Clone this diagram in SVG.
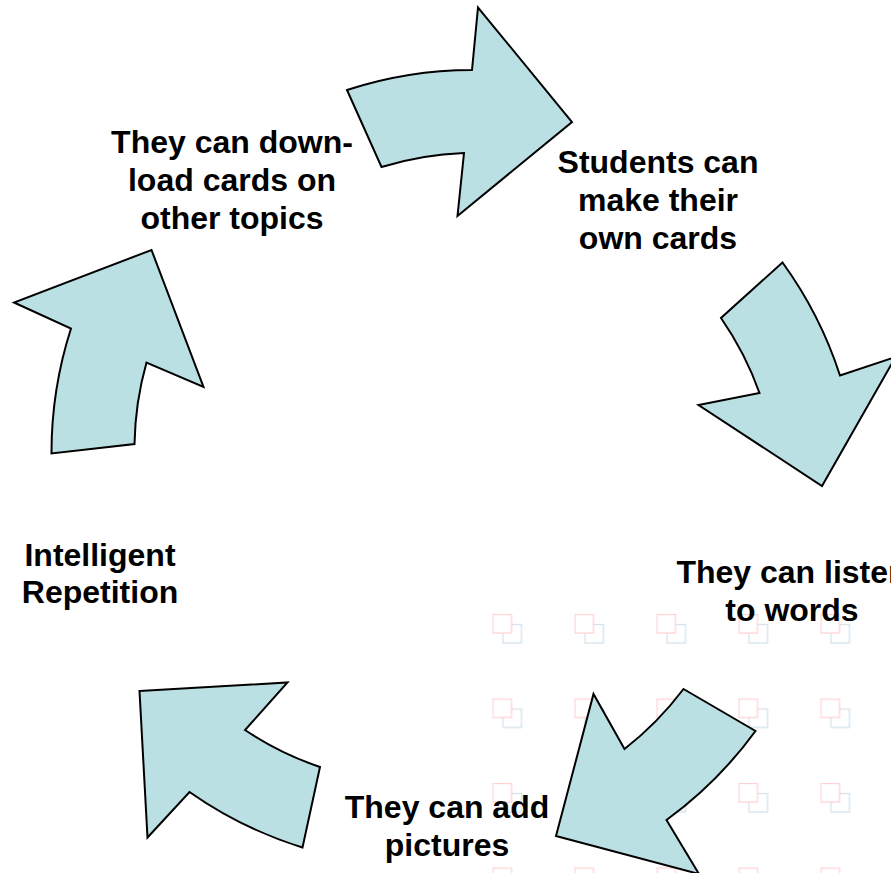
<svg xmlns="http://www.w3.org/2000/svg" width="891" height="873" viewBox="0 0 891 873">
  <defs>
    <!-- faint overlapping-squares backdrop tile -->
    <pattern id="squares" patternUnits="userSpaceOnUse" x="492.5" y="614" width="82" height="84.5">
      <rect x="10.5" y="10.5" width="18.5" height="18.5" fill="none" stroke="#d3e2ec" stroke-width="1.3"/>
      <rect x="0.5" y="0.5" width="18.5" height="18.5" fill="#ffffff" stroke="#ffd2d4" stroke-width="1.3"/>
    </pattern>
    <style>
      .arrow { fill: #bbe0e3; stroke: #000000; stroke-width: 2; stroke-linejoin: miter; }
      .label { font-family: "Liberation Sans", Arial, sans-serif; font-weight: bold; font-size: 32px; fill: #000000; text-anchor: middle; }
    </style>
  </defs>

  <rect x="0" y="0" width="891" height="873" fill="#ffffff"/>
  <rect x="484" y="604" width="407" height="269" fill="url(#squares)"/>

  <!-- curved cycle arrows -->
  <g id="connectors">
    <path id="arrow-top" class="arrow" d="M347,90 A405,405 0 0 1 472,70 L478,7.5 L572,122 L457.5,216 L464,153 A320,320 0 0 0 381.5,167 Z"/>
    <path id="arrow-right" class="arrow" d="M782.5,262.5 L721,318 A320,320 0 0 1 759.5,393 L698.5,405 L822,486 L895.5,357 L840,375.5 A405,405 0 0 0 782.5,262.5 Z"/>
    <path id="arrow-bottom-right" class="arrow" d="M683.5,689 L755.5,731 A405,405 0 0 1 666.5,820 L699,874 L556,836 L593.5,694 L624.5,749 A320,320 0 0 0 683.5,689 Z"/>
    <path id="arrow-bottom-left" class="arrow" d="M139.5,691 L287.5,682.5 L245,730 A320,320 0 0 0 320,767 L302.5,847.5 A405,405 0 0 1 189.5,792 L147.5,837.5 Z"/>
    <path id="arrow-left" class="arrow" d="M151.5,250 L203.5,387 L146.5,362.5 A320,320 0 0 0 134.5,444 L51.5,453.5 A405,405 0 0 1 71,328.5 L14,302.5 Z"/>
  </g>

  <g id="node-make-cards">
    <text class="label" x="658" y="173">Students can</text>
    <text class="label" x="658" y="211">make their</text>
    <text class="label" x="658" y="249">own cards</text>
  </g>

  <g id="node-listen">
    <text class="label" x="792" y="583">They can listen</text>
    <text class="label" x="792" y="621">to words</text>
  </g>

  <g id="node-pictures">
    <text class="label" x="447" y="818">They can add</text>
    <text class="label" x="447" y="856">pictures</text>
  </g>

  <g id="node-repetition">
    <text class="label" x="100" y="566">Intelligent</text>
    <text class="label" x="100" y="603">Repetition</text>
  </g>

  <g id="node-download">
    <text class="label" x="232" y="153">They can down-</text>
    <text class="label" x="232" y="191">load cards on</text>
    <text class="label" x="232" y="229">other topics</text>
  </g>
</svg>
